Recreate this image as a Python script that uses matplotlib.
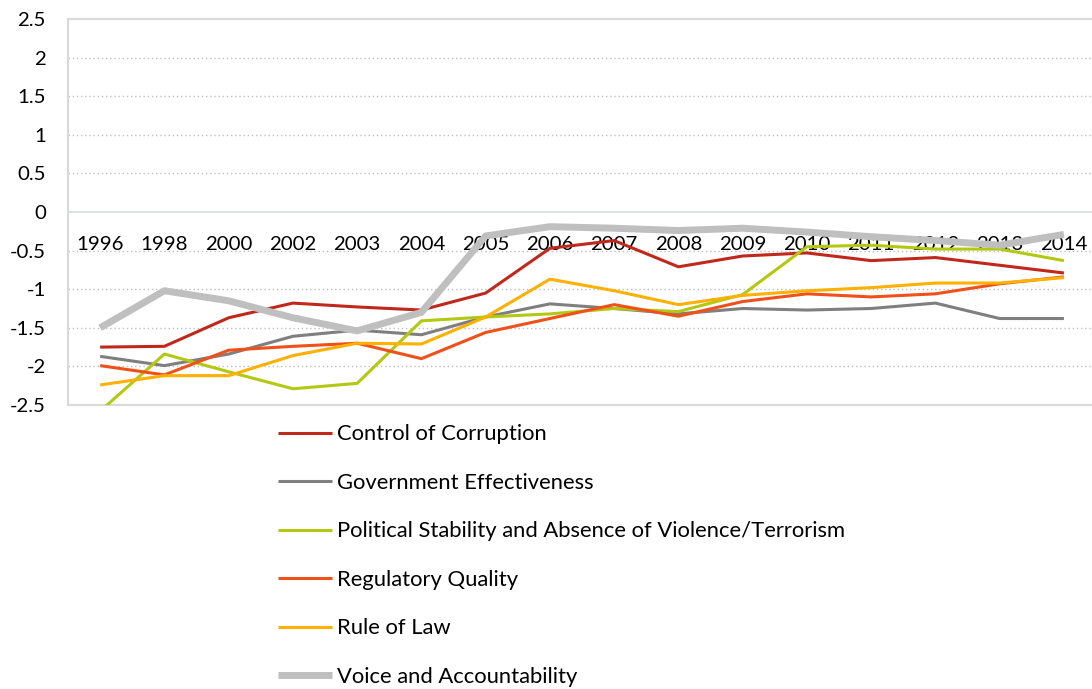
import matplotlib
matplotlib.use("Agg")
import matplotlib.pyplot as plt

years = ["1996", "1998", "2000", "2002", "2003", "2004", "2005", "2006",
         "2007", "2008", "2009", "2010", "2011", "2012", "2013", "2014"]

control_corruption = [-1.75, -1.74, -1.37, -1.18, -1.23, -1.27, -1.05, -0.47,
                      -0.37, -0.71, -0.57, -0.53, -0.63, -0.59, -0.69, -0.79]
gov_effectiveness = [-1.87, -1.99, -1.84, -1.61, -1.53, -1.59, -1.36, -1.19,
                     -1.25, -1.32, -1.25, -1.27, -1.25, -1.18, -1.38, -1.38]
political_stability = [-2.58, -1.84, -2.07, -2.29, -2.22, -1.41, -1.36, -1.32,
                       -1.25, -1.29, -1.07, -0.45, -0.43, -0.48, -0.48, -0.63]
regulatory_quality = [-1.99, -2.11, -1.79, -1.74, -1.70, -1.90, -1.56, -1.38,
                      -1.20, -1.35, -1.16, -1.06, -1.10, -1.06, -0.93, -0.84]
rule_of_law = [-2.24, -2.12, -2.12, -1.86, -1.70, -1.71, -1.36, -0.87,
               -1.02, -1.20, -1.08, -1.02, -0.98, -0.92, -0.92, -0.85]
voice_accountability = [-1.50, -1.02, -1.15, -1.37, -1.54, -1.30, -0.31, -0.19,
                        -0.21, -0.24, -0.21, -0.26, -0.32, -0.37, -0.43, -0.29]

series = [
    ("Control of Corruption", control_corruption, "#C0281B", 2.2),
    ("Government Effectiveness", gov_effectiveness, "#7F7F7F", 2.2),
    ("Political Stability and Absence of Violence/Terrorism", political_stability, "#B4C812", 2.2),
    ("Regulatory Quality", regulatory_quality, "#F0501A", 2.2),
    ("Rule of Law", rule_of_law, "#FFB000", 2.2),
    ("Voice and Accountability", voice_accountability, "#BFBFBF", 5.0),
]

plt.rcParams["font.family"] = ["Lato", "DejaVu Sans"]
fig = plt.figure(figsize=(10.92, 6.89), dpi=100)
ax = fig.add_axes([0.0623, 0.4122, 0.9414, 0.5602])

x = range(len(years))
handles = []
for name, vals, color, lw in series:
    h, = ax.plot(x, vals, color=color, lw=lw, label=name, solid_capstyle="butt", zorder=3)
    handles.append(h)

ax.set_xlim(-0.5, len(years) - 0.5)
ax.set_ylim(-2.5, 2.5)
ax.set_yticks([2.5, 2, 1.5, 1, 0.5, 0, -0.5, -1, -1.5, -2, -2.5])
ax.set_yticklabels(["2.5", "2", "1.5", "1", "0.5", "0", "-0.5", "-1", "-1.5", "-2", "-2.5"])
for yv in [2, 1.5, 1, 0.5, -0.5, -1, -1.5, -2]:
    ax.axhline(yv, color="#BFBFBF", lw=1, ls=(0, (1, 2)), zorder=1)
ax.axhline(-2.5, color="#D9D9D9", lw=1.5, zorder=2, clip_on=False)

ax.spines["bottom"].set_position(("data", 0))
ax.spines["bottom"].set_color("#D6DCE4")
ax.spines["bottom"].set_linewidth(1.2)
for s in ["left", "top", "right"]:
    ax.spines[s].set_color("#D9D9D9")
    ax.spines[s].set_linewidth(1.5)

ax.set_xticks(list(x))
ax.set_xticklabels(years)
ax.tick_params(axis="x", length=0, pad=17.5, labelsize=14.7)
ax.tick_params(axis="y", length=0, pad=16, labelsize=14.7)

fig.legend(handles=handles, loc="upper left", bbox_to_anchor=(0.2443, 0.400),
           frameon=False, fontsize=15.8, handlelength=2.47, handletextpad=0.23,
           labelspacing=1.30, borderpad=0)

fig.savefig("out.png", dpi=100)
